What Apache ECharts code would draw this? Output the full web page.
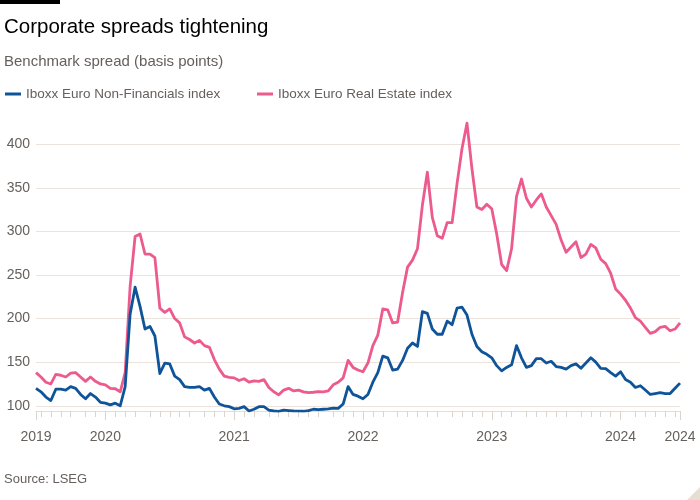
<!DOCTYPE html>
<html>
<head>
<meta charset="utf-8">
<script src="https://cdn.jsdelivr.net/npm/echarts@6/dist/echarts.min.js"></script>
<style>
html,body{margin:0;padding:0;background:#ffffff;}
#chart{width:700px;height:500px;}
</style>
</head>
<body>
<div id="chart"></div>
<script>
// Fortnightly observations, first one on 2019-06-19
const startDate = '2019-06-19';
const stepDays = 14;

const seriesNames = ['Iboxx Euro Non-Financials index', 'Iboxx Euro Real Estate index'];

const nonFinancials = [
  120,116,110,106,119,119,118,122,120,113,
  108,114,110,104,103,101,103,100,122,205,
  236,214,188,191,180,137,149,148,134,130,
  122,121,121,122,118,120,110,102,100,99,
  96.5,97,99,94,96,99,99,95,94,93.5,
  95,94.5,94,93.8,93.7,94.5,96,95.5,96,96.5,
  97.3,97,102,122,113,111,108,113,127,138,
  157,155,141,142,152,166,172,168,208,206,
  188,182,182,197,193,212,213,204,182,168,
  162,159,155,146,140,144,147,169,155,144,
  146,154,154,149,151,145,144,142,146,148,
  143,149,155,150,143,142.5,138,134,139,130,
  127,121,123,118,113,114,115,114,114,120,
  126
];

const realEstate = [
  138,133,127,125,136,135,133,137.5,138,133,
  128,133,128,125,124,120,119.5,116,138,237,
  294,297,274,274,270,212,207,211,200,195,
  179,176,172,175,169,167,153,142,134,132.5,
  132,129,131,127,128.5,128,130,121,116,112.5,
  118,120,117,118,116,115,115.5,116.3,116,117,
  124,127,132,152,144,141,139,149,169,181,
  211,210,195,196,230,259,267,280,330,368,
  316,295,292,310,310,355,395,424,372,328,
  325,331,326,297,262,255,280,340,360,338,
  328,336,343,328,318,308,290,276,282,288,
  270,274,285,281,268,263,252,234,228,221,
  212,201,197,190,183,185,190,191,186,188,
  195
];

const yTickValues = [100, 150, 200, 250, 300, 350, 400];

// ---- build category dates ----
const DAY = 86400000;
const t0 = Date.parse(startDate + 'T00:00:00Z');
const dates = nonFinancials.map((_, i) => {
  const d = new Date(t0 + i * stepDays * DAY);
  return d.toISOString().slice(0, 10);
});
const lastIdx = dates.length - 1;
function around(i, off) { return new Date(t0 + i * stepDays * DAY + off * DAY); }
function monthBoundary(i) {
  const a = around(i, -7), b = around(i, 7);
  return a.getUTCMonth() !== b.getUTCMonth() || a.getUTCFullYear() !== b.getUTCFullYear();
}
function yearBoundary(i) {
  return around(i, -7).getUTCFullYear() !== around(i, 7).getUTCFullYear();
}
function isMajor(i) { return i === 0 || i === lastIdx || yearBoundary(i); }

const FONT = '"Liberation Sans", Arial, sans-serif';
const GREY = '#66605c';
const BLUE = '#0f5499';
const PINK = '#ec5a8e';

const chart = echarts.init(document.getElementById('chart'), null, {renderer: 'canvas'});
chart.setOption({
  animation: false,
  backgroundColor: '#ffffff',
  title: [
    {text: 'Corporate spreads tightening', left: -1, top: 12,
     textStyle: {fontFamily: FONT, fontSize: 20.5, fontWeight: 'normal', color: '#000000'}},
    {text: 'Benchmark spread (basis points)', left: -1, top: 49,
     textStyle: {fontFamily: FONT, fontSize: 15, fontWeight: 'normal', color: GREY}},
    {text: 'Source: LSEG', left: -1, top: 468,
     textStyle: {fontFamily: FONT, fontSize: 13, fontWeight: 'normal', color: GREY}}
  ],
  graphic: [
    {type: 'rect', shape: {x: 0, y: 0, width: 60, height: 4}, style: {fill: '#000000'}},
    {type: 'polygon', shape: {points: [[700, 487], [700, 500], [687, 500]]}, style: {fill: '#e8ddd1'}}
  ],
  legend: [
    {data: [seriesNames[0]], left: 0, top: 82, icon: 'rect', itemWidth: 16, itemHeight: 3,
     itemGap: 10, textStyle: {fontFamily: FONT, fontSize: 13.5, color: GREY}},
    {data: [seriesNames[1]], left: 252, top: 82, icon: 'rect', itemWidth: 16, itemHeight: 3,
     itemGap: 10, textStyle: {fontFamily: FONT, fontSize: 13.5, color: GREY}}
  ],
  grid: {left: 36, right: 20, top: 118, bottom: 89, containLabel: false},
  xAxis: [
    {
      type: 'category', data: dates, boundaryGap: false, position: 'bottom',
      axisLine: {show: true, lineStyle: {color: '#e6ddd4', width: 1}},
      axisTick: {show: true, length: 9, interval: (i) => isMajor(i), lineStyle: {color: '#ddd3c9', width: 1}},
      axisLabel: {
        show: true, interval: (i) => isMajor(i), margin: 19,
        fontFamily: FONT, fontSize: 14, color: GREY,
        formatter: (v, i) => String(new Date(Date.parse(v + 'T00:00:00Z') + 7 * DAY).getUTCFullYear())
      },
      splitLine: {show: false}
    },
    {
      type: 'category', data: dates, boundaryGap: false, position: 'bottom', gridIndex: 0,
      axisLine: {show: false},
      axisTick: {show: true, length: 6, interval: (i) => monthBoundary(i), lineStyle: {color: '#ddd3c9', width: 1}},
      axisLabel: {show: false},
      splitLine: {show: false}
    }
  ],
  yAxis: {
    type: 'value', min: 94, max: 430, splitNumber: 6,
    axisLine: {show: false}, axisTick: {show: false},
    axisLabel: {
      fontFamily: FONT, fontSize: 14, color: GREY, margin: 6,
      showMinLabel: false, showMaxLabel: false,
      formatter: (v) => yTickValues.indexOf(v) >= 0 ? String(v) : ''
    },
    splitLine: {show: true, showMinLine: false, showMaxLine: false,
      lineStyle: {color: '#ece4dc', width: 1}}
  },
  series: [
    {name: seriesNames[1], type: 'line', data: realEstate, xAxisIndex: 0, showSymbol: false, symbol: 'none',
     lineStyle: {color: PINK, width: 2.8, join: 'round'}, itemStyle: {color: PINK}, z: 2},
    {name: seriesNames[0], type: 'line', data: nonFinancials, xAxisIndex: 0, showSymbol: false, symbol: 'none',
     lineStyle: {color: BLUE, width: 2.8, join: 'round'}, itemStyle: {color: BLUE}, z: 3}
  ]
});
</script>
</body>
</html>
